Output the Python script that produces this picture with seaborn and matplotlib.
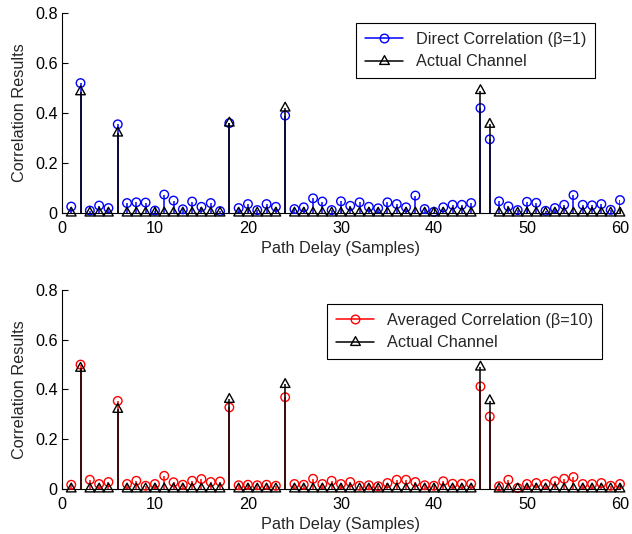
import numpy as np
import pandas as pd
import matplotlib
matplotlib.use("Agg")
import matplotlib.pyplot as plt
import seaborn as sns
from matplotlib.lines import Line2D
from matplotlib.path import Path
from matplotlib.legend_handler import HandlerLine2D

# Path delays (samples) at which correlation is evaluated
delay = list(range(1, 61))

# True multipath channel taps
channel_delays = [2, 6, 18, 24, 45, 46]
channel_gains = [0.485, 0.32, 0.36, 0.42, 0.49, 0.355]

# Single-shot correlation (beta = 1)
direct_corr = [
    0.026, 0.520, 0.010, 0.030, 0.020, 0.355, 0.040, 0.043, 0.042, 0.010,
    0.074, 0.050, 0.015, 0.046, 0.025, 0.040, 0.008, 0.360, 0.020, 0.036,
    0.012, 0.036, 0.025, 0.390, 0.016, 0.023, 0.059, 0.046, 0.012, 0.047,
    0.029, 0.043, 0.025, 0.019, 0.043, 0.036, 0.023, 0.070, 0.016, 0.005,
    0.023, 0.033, 0.033, 0.040, 0.420, 0.295, 0.047, 0.027, 0.012, 0.045,
    0.041, 0.009, 0.020, 0.033, 0.072, 0.033, 0.031, 0.036, 0.013, 0.052,
]

# Correlation averaged over ten frames (beta = 10)
averaged_corr = [
    0.017, 0.500, 0.037, 0.020, 0.028, 0.354, 0.020, 0.033, 0.013, 0.020,
    0.053, 0.027, 0.017, 0.033, 0.040, 0.028, 0.030, 0.328, 0.015, 0.017,
    0.015, 0.017, 0.013, 0.369, 0.020, 0.017, 0.041, 0.020, 0.033, 0.020,
    0.028, 0.013, 0.015, 0.011, 0.024, 0.037, 0.037, 0.028, 0.015, 0.013,
    0.031, 0.021, 0.021, 0.021, 0.412, 0.291, 0.011, 0.037, 0.004, 0.020,
    0.024, 0.020, 0.031, 0.041, 0.048, 0.020, 0.020, 0.024, 0.013, 0.020,
]

x_ticks = [0, 10, 20, 30, 40, 50, 60]
y_ticks = [0, 0.2, 0.4, 0.6, 0.8]
y_tick_labels = ["0", "0.2", "0.4", "0.6", "0.8"]

FS = 11.7

sns.set_style("ticks")
plt.rcParams["font.family"] = ["Liberation Sans", "DejaVu Sans"]
plt.rcParams["xtick.direction"] = "in"
plt.rcParams["ytick.direction"] = "in"
plt.rcParams["font.size"] = FS

channel = pd.DataFrame({"delay": delay, "gain": 0.0}).set_index("delay")
for d, g in zip(channel_delays, channel_gains):
    channel.loc[d, "gain"] = g
channel = channel.reset_index()

# Upward triangle centred on its centroid
TRIANGLE = Path([(0, 2 / 3), (-0.55, -1 / 3), (0.55, -1 / 3), (0, 2 / 3)],
                [Path.MOVETO, Path.LINETO, Path.LINETO, Path.CLOSEPOLY])


class EndMarkerHandler(HandlerLine2D):
    """Legend entry with the marker placed at the right end of the line."""

    def get_xdata(self, legend, xdescent, ydescent, width, height, fontsize):
        xdata, _ = super().get_xdata(legend, xdescent, ydescent, width, height, fontsize)
        return xdata, np.array([xdata[-1]])


def draw_panel(ax, corr, color, label, legend_anchor):
    df = pd.DataFrame({"delay": delay, "corr": corr})
    ax.vlines(df["delay"], 0, df["corr"], color=color, lw=1.1, zorder=2)
    sns.scatterplot(data=df, x="delay", y="corr", ax=ax, marker="o", s=38,
                    facecolor="none", edgecolor=color, linewidth=1.0,
                    clip_on=False, zorder=3, legend=False)
    ax.vlines(channel["delay"], 0, channel["gain"], color="black", lw=1.1, zorder=4)
    sns.scatterplot(data=channel, x="delay", y="gain", ax=ax, marker=TRIANGLE, s=70,
                    facecolor="none", edgecolor="black", linewidth=1.0,
                    clip_on=False, zorder=5, legend=False)

    ax.set_xlim(0, 60)
    ax.set_ylim(0, 0.8)
    ax.set_xticks(x_ticks)
    ax.set_yticks(y_ticks)
    ax.set_yticklabels(y_tick_labels)
    ax.tick_params(length=4, width=0.8, labelsize=FS, colors="black", pad=3)
    ax.tick_params(axis="x", pad=5.5)
    ax.set_xlabel("Path Delay (Samples)", fontsize=FS, labelpad=4)
    ax.set_ylabel("Correlation Results", fontsize=FS, labelpad=6)
    sns.despine(ax=ax)
    for sp in ax.spines.values():
        sp.set_linewidth(0.8)
        sp.set_color("black")

    handles = [
        Line2D([], [], color=color, lw=1.1, marker="o", markersize=6.2,
               markerfacecolor="none", markeredgecolor=color),
        Line2D([], [], color="black", lw=1.1, marker=TRIANGLE, markersize=8.4,
               markerfacecolor="none", markeredgecolor="black"),
    ]
    leg = ax.legend(handles, [label, "Actual Channel"],
                    handler_map={Line2D: EndMarkerHandler()},
                    loc="upper right", bbox_to_anchor=legend_anchor,
                    bbox_transform=ax.figure.transFigure,
                    handlelength=2.35, numpoints=1, frameon=True, fancybox=False,
                    edgecolor="black", framealpha=1, fontsize=FS,
                    borderpad=0.55, labelspacing=0.45, handletextpad=0.8,
                    borderaxespad=0)
    leg.get_frame().set_linewidth(0.8)


fig = plt.figure(figsize=(6.32, 5.34), dpi=100)
ax1 = fig.add_axes([0.098, 0.601, 0.883, 0.3745])
ax2 = fig.add_axes([0.098, 0.0843, 0.883, 0.3727])

draw_panel(ax1, direct_corr, (0, 0, 1), "Direct Correlation (\u03b2=1)",
           (595 / 632, 1 - 23 / 534))
draw_panel(ax2, averaged_corr, (1, 0, 0), "Averaged Correlation (\u03b2=10)",
           (602 / 632, 1 - 304 / 534))

fig.savefig("out.png", dpi=100, facecolor="white")
